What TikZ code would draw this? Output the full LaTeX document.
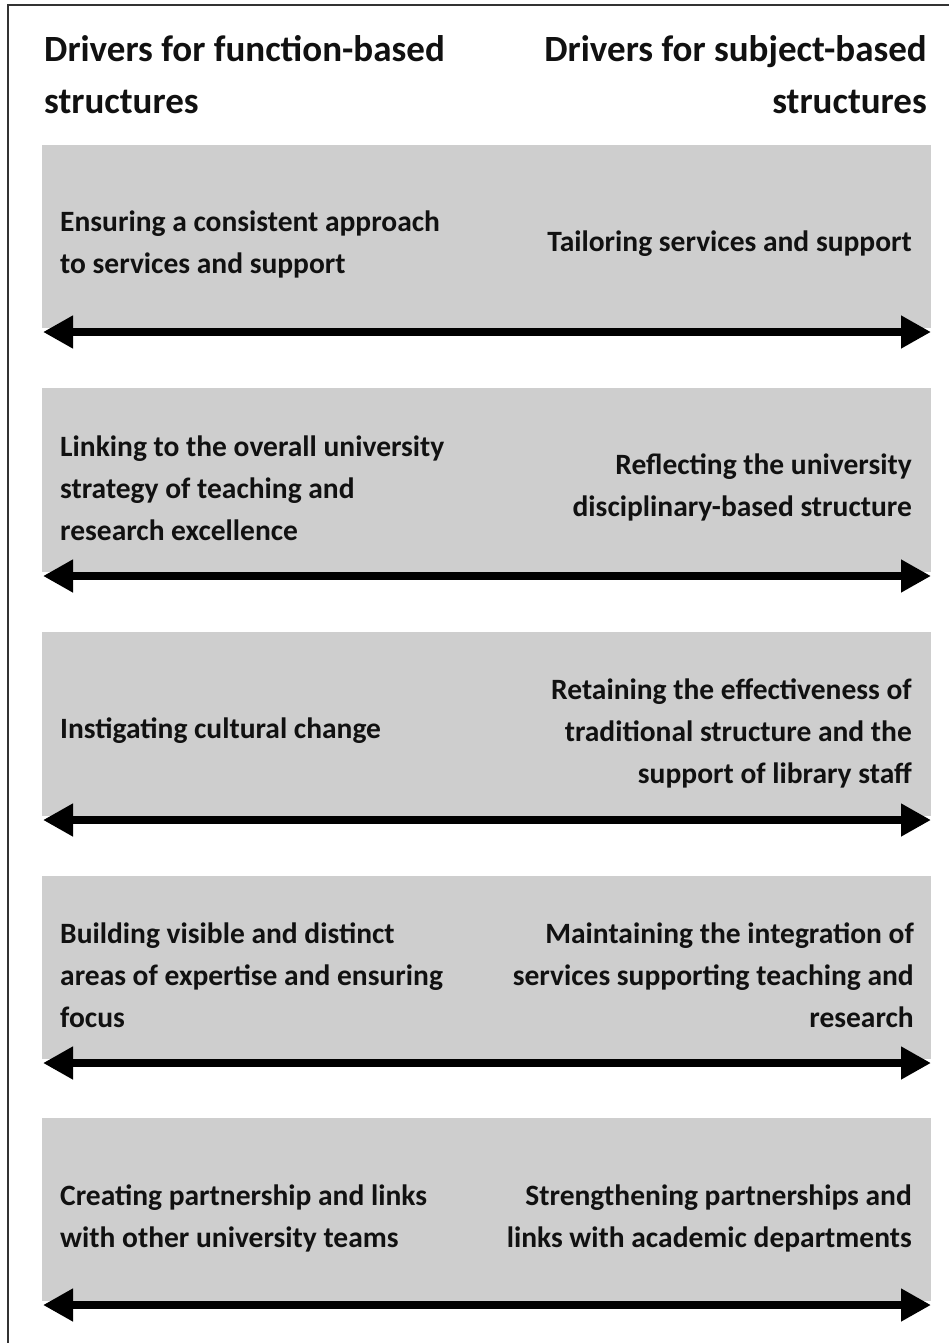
\documentclass[tikz,border=0pt]{standalone}
\usepackage{fontspec}
\setmainfont{Carlito}
\usetikzlibrary{arrows.meta}
\definecolor{boxgray}{HTML}{CECECE}
\definecolor{ink}{HTML}{111111}
\tikzset{
  band/.style={fill=boxgray, draw=none},
  hdr/.style={font=\fontsize{37}{52}\selectfont\bfseries, text=ink, inner sep=0pt},
  lefttxt/.style={font=\fontsize{29.5}{42}\selectfont\bfseries, text=ink, inner sep=0pt, align=left, anchor=west},
  righttxt/.style={font=\fontsize{29.5}{42}\selectfont\bfseries, text=ink, inner sep=0pt, align=right, anchor=east},
  dbl/.style={line width=8pt, {Triangle[length=30pt,width=31pt]}-{Triangle[length=30pt,width=31pt]}, shorten <=0pt, shorten >=0pt},
  frame/.style={line width=1.5pt, draw=black!80}
}
\begin{document}
\begin{tikzpicture}[x=1pt,y=-1pt]
\useasboundingbox (0,0) rectangle (949,1343);
\fill[white] (0,0) rectangle (949,1343);
% frame
\coordinate (fb) at (8,1343);
\coordinate (fc) at (8,5);
\coordinate (fr) at (949,5);
\draw[frame] (fb) -- (fc) -- (fr);
% headers
\node[hdr, align=left, anchor=north west] (hl) at (44,35) {Drivers for function-based\\structures};
\node[hdr, align=right, anchor=north east] (hr) at (927,35) {Drivers for subject-based\\structures};
% bands
\fill[band] (42,145) rectangle (931,328);
\fill[band] (42,388) rectangle (931,572);
\fill[band] (42,632) rectangle (931,816);
\fill[band] (42,876) rectangle (931,1059);
\fill[band] (42,1118) rectangle (931,1301);
% texts
\node[lefttxt] (a1) at (60,244) {Ensuring a consistent approach\\to services and support};
\node[righttxt] (b1) at (912,244) {Tailoring services and support};
\node[lefttxt] (a2) at (60,488) {Linking to the overall university\\strategy of teaching and\\research excellence};
\node[righttxt] (b2) at (912,487) {Reflecting the university\\disciplinary-based structure};
\node[lefttxt] (a3) at (60,731) {Instigating cultural change};
\node[righttxt] (b3) at (912,733) {Retaining the effectiveness of\\traditional structure and the\\support of library staff};
\node[lefttxt] (a4) at (60,975) {Building visible and distinct\\areas of expertise and ensuring\\focus};
\node[righttxt] (b4) at (914,975) {Maintaining the integration of\\services supporting teaching and\\research};
\node[lefttxt] (a5) at (60,1218) {Creating partnership and links\\with other university teams};
\node[righttxt] (b5) at (912,1218) {Strengthening partnerships and\\links with academic departments};
% arrows
\foreach \i/\y in {1/332,2/576,3/820,4/1063,5/1305}{
  \coordinate (l\i) at (43,\y);
  \coordinate (r\i) at (931,\y);
  \draw[dbl] (l\i) -- (r\i);
}
\end{tikzpicture}
\end{document}
